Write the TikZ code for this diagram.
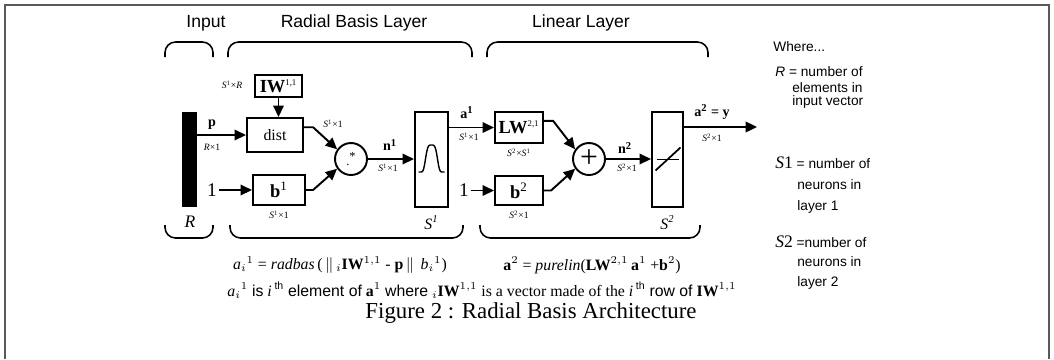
\documentclass[tikz,border=0pt]{standalone}
\usepackage{fontspec}
\setmainfont{Liberation Serif}
\setsansfont{Liberation Sans}
\usetikzlibrary{arrows.meta, positioning}

\begin{document}
\begin{tikzpicture}[
    x=0.02cm, y=-0.02cm,
    >={Triangle[length=6.5pt,width=6pt]},
    block/.style={draw, line width=1.2pt, inner sep=0pt, align=center,
        font=\fontsize{10.5}{12}\selectfont},
    summer/.style={draw, circle, line width=1.1pt, minimum size=0.64cm, inner sep=0pt},
    arrow/.style={->, line width=1.1pt},
    brace/.style={line width=0.9pt, rounded corners=6pt},
    dimlbl/.style={font=\fontsize{5.5}{6.5}\selectfont, inner sep=0.5pt},
    sig/.style={font=\bfseries\fontsize{8}{9}\selectfont, inner sep=0.5pt},
    head/.style={font=\sffamily\fontsize{10}{12}\selectfont},
    note/.style={font=\sffamily\fontsize{7.8}{9}\selectfont, anchor=west, inner sep=0pt}
]
\useasboundingbox (0,0) rectangle (1054,359);

\draw[black!65, line width=1pt] (5,359) -- (5,5) -- (1049,5) -- (1049,359);

\node[head] (tIn) at (206,23) {Input};
\node[head] (tRb) at (354,23) {Radial Basis Layer};
\node[head] (tLin) at (581,23) {Linear Layer};

\foreach \xa/\xb in {165/213, 228/472, 487/708}
    \draw[brace] (\xa,57) -- (\xa,42) -- (\xb,42) -- (\xb,57);
\foreach \xa/\xb in {165/213, 230/463, 480/700}
    \draw[brace] (\xa,225) -- (\xa,238) -- (\xb,238) -- (\xb,225);

\node[fill=black, minimum width=0.3cm, minimum height=1.9cm, inner sep=0pt] (bar) at (189.5,159.5) {};
\node[font=\itshape\fontsize{10}{12}\selectfont] (rIn) at (190,222) {R};

\node[block, minimum width=0.94cm, minimum height=0.44cm] (IW) at (278.5,86)
    {\textbf{IW}\textsuperscript{\fontsize{5}{6}\selectfont 1,1}};
\node[block, minimum width=1.12cm, minimum height=0.68cm, font=\fontsize{9}{10}\selectfont] (dist) at (275,135) {dist};
\node[block, minimum width=1.04cm, minimum height=0.6cm] (b1) at (279,190) {\textbf{b}\textsuperscript{1}};
\node[summer] (mult) at (351,159) {\fontsize{7}{7}\selectfont\raisebox{-2pt}{.}\raisebox{1pt}{*}};
\node[block, minimum width=0.66cm, minimum height=1.9cm] (radbas) at (431.5,159.5) {};
\node[block, minimum width=0.96cm, minimum height=0.62cm] (LW) at (519,127.5)
    {\textbf{LW}\textsuperscript{\fontsize{5}{6}\selectfont 2,1}};
\node[block, minimum width=0.96cm, minimum height=0.58cm] (b2) at (519,190.5) {\textbf{b}\textsuperscript{2}};
\node[summer, font=\fontsize{18}{18}\selectfont] (sum) at (589,159) {+};
\node[block, minimum width=0.62cm, minimum height=1.9cm] (purelin) at (667.5,159.5) {};

\node[font=\fontsize{11}{12}\selectfont, inner sep=1pt] (one1) at (212,190) {1};
\node[font=\fontsize{11}{12}\selectfont, inner sep=1pt] (one2) at (464,190.5) {1};
\coordinate (out) at (757,127);

\draw[arrow] (bar.east |- dist) -- (dist);
\draw[arrow] (IW) -- (IW |- dist.north);
\draw[arrow] (dist.15) -- ++(9,0) -- (mult.145);
\draw[arrow] (b1.east) -- ++(7,0) -- (mult.215);
\draw[arrow] (one1) -- (b1);
\draw[arrow] (mult) -- (mult -| radbas.west);
\draw[arrow] (radbas.east |- LW) -- (LW);
\draw[arrow] (LW.15) -- ++(9,0) -- (sum.145);
\draw[arrow] (b2.east) -- ++(7,0) -- (sum.215);
\draw[arrow] (one2) -- (b2);
\draw[arrow] (sum) -- (sum -| purelin.west);
\draw[arrow] (purelin.east |- out) -- (out);

\draw[line width=0.8pt, domain=-13:13, samples=41, smooth]
    plot ({431.5+\x}, {172-27*exp(-(\x*\x/42.25)*(\x*\x/42.25))});
\draw[line width=0.6pt] (purelin.center) ++(-11,0) -- ++(22,0);
\draw[line width=1pt] (purelin.center) ++(-12,11) -- ++(25,-23);

\node[sig] (pLbl) at (212,125) {p};
\node[dimlbl] (pDim) at (212,147) {\textit{R}×1};
\node[dimlbl] (iwDim) at (232,85) {\textit{S}\textsuperscript{1}×\textit{R}};
\node[dimlbl] (dDim) at (333,124) {\textit{S}\textsuperscript{1}×1};
\node[dimlbl, below=2pt of b1] (b1Dim) {\textit{S}\textsuperscript{1}×1};
\node[sig] (n1Lbl) at (390,145) {n\textsuperscript{1}};
\node[dimlbl] (n1Dim) at (388,168) {\textit{S}\textsuperscript{1}×1};
\node[font=\itshape\fontsize{9}{10}\selectfont, below=1pt of radbas] (s1Lbl) {S\textsuperscript{1}};
\node[sig] (a1Lbl) at (467,113) {a\textsuperscript{1}};
\node[dimlbl] (a1Dim) at (469,137) {\textit{S}\textsuperscript{1}×1};
\node[dimlbl, below=2pt of LW] (lwDim) {\textit{S}\textsuperscript{2}×\textit{S}\textsuperscript{1}};
\node[dimlbl, below=2pt of b2] (b2Dim) {\textit{S}\textsuperscript{2}×1};
\node[sig] (n2Lbl) at (625,148) {n\textsuperscript{2}};
\node[dimlbl] (n2Dim) at (627,168) {\textit{S}\textsuperscript{2}×1};
\node[font=\itshape\fontsize{9}{10}\selectfont, below=1pt of purelin] (s2Lbl) {S\textsuperscript{2}};
\node[sig] (a2Lbl) at (712,112) {a\textsuperscript{2} = y};
\node[dimlbl] (a2Dim) at (712,138) {\textit{S}\textsuperscript{2}×1};

\node[font=\fontsize{9}{10}\selectfont] (eq1) at (340,265)
    {\textit{a}$_i{}^1$ = \textit{radbas}\,(\,$\|$\,${}_i$\textbf{IW}$^{1,1}$ - \textbf{p}\,$\|$\, \textit{b}$_i{}^1$)};
\node[font=\fontsize{9}{10}\selectfont] (eq2) at (592,265)
    {\textbf{a}$^2$ = \textit{purelin}(\textbf{LW}$^{2,1}$\,\textbf{a}$^1$ +\textbf{b}$^2$)};
\node[font=\fontsize{9}{10}\selectfont, anchor=west, inner sep=0pt] (eq3) at (227,290)
    {\textit{a}$_i{}^1$ {\sffamily is} \textit{i}\,\textsuperscript{\sffamily th} {\sffamily element of} \textbf{a}$^1$ {\sffamily where} ${}_i$\textbf{IW}$^{1,1}$ is a vector made of the \textit{i}\,\textsuperscript{\sffamily th} {\sffamily row of} \textbf{IW}$^{1,1}$};
\node[font=\fontsize{13}{15}\selectfont, inner sep=0pt] (cap) at (531,313) {Figure 2 : Radial Basis Architecture};

\node[note] (w0) at (773,47) {Where...};
\node[note] (w1) at (775,72) {\textit{R} = number of};
\node[note] (w2) at (792,88) {elements in};
\node[note] (w3) at (792,102) {input vector};
\node[note] (w4) at (775,163) {{\rmfamily\fontsize{10}{12}\selectfont\textit{S}1} = number of};
\node[note] (w5) at (797,185) {neurons in};
\node[note] (w6) at (797,207) {layer 1};
\node[note] (w7) at (775,242) {{\rmfamily\fontsize{10}{12}\selectfont\textit{S}2} =number of};
\node[note] (w8) at (797,262) {neurons in};
\node[note] (w9) at (797,283) {layer 2};
\end{tikzpicture}
\end{document}
